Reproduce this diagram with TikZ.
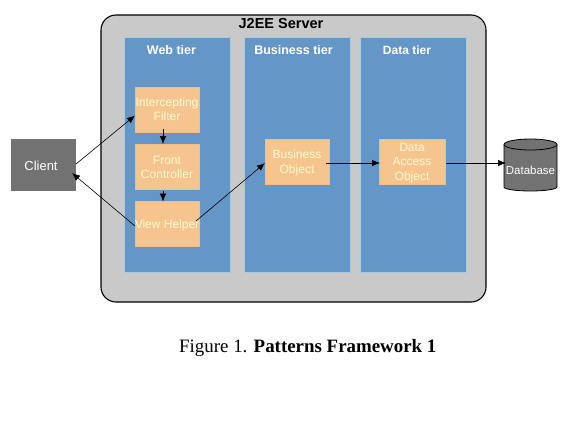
\documentclass[tikz,border=0pt]{standalone}
\usepackage{fontspec}
\setmainfont{Liberation Sans}
\newfontfamily\capfont{Liberation Serif}
\usetikzlibrary{arrows.meta}
\definecolor{servergray}{HTML}{C9C9C9}
\definecolor{tierblue}{HTML}{6496C8}
\definecolor{tierhalo}{HTML}{A8CBE4}
\definecolor{boxorange}{HTML}{F6C48E}
\definecolor{boxtext}{HTML}{FFFBD0}
\definecolor{darkgray}{HTML}{727272}
\tikzset{
  x=1pt,y=-1pt,
  server/.style={draw=black,line width=1.1pt,fill=servergray,rounded corners=15pt,minimum width=385pt,minimum height=287pt,inner sep=0pt},
  tier/.style={draw=tierhalo,line width=1pt,fill=tierblue,minimum width=106pt,minimum height=235pt,inner sep=0pt},
  pattern/.style={fill=boxorange,draw=boxorange!90!orange,minimum width=64pt,minimum height=45pt,inner sep=0pt},
  patterntext/.style={align=center,text=boxtext,inner sep=0pt,font=\fontsize{12}{14.4}\selectfont},
  grayblock/.style={fill=darkgray,text=white,font=\fontsize{13}{14}\selectfont},
  heading/.style={font=\bfseries\fontsize{12.5}{14}\selectfont,text=white},
  conn/.style={-{Latex[length=8pt,width=6.5pt]},line width=0.6pt,black},
}
\begin{document}
\begin{tikzpicture}
\useasboundingbox (0,0) rectangle (575,431);
\fill[white] (0,0) rectangle (575,431);
\node[server] (srv) at (293.5,158.5) {};
\node[font=\bfseries\fontsize{14.5}{16}\selectfont,text=black] (srvlabel) at (281,24) {J2EE Server};
\node[tier] (web) at (177.5,155) {};
\node[tier] (bus) at (297.5,155) {};
\node[tier] (dat) at (413,155) {};
\node[heading] (webl) at (171.5,50.5) {Web tier};
\node[heading] (busl) at (293.5,50.5) {Business tier};
\node[heading,font=\bfseries\fontsize{12}{14}\selectfont] (datl) at (407,50.5) {Data tier};
\node[pattern] (if) at (167,109.5) {};
\node[pattern] (fc) at (167,166.5) {};
\node[pattern] (vh) at (167,223.5) {};
\node[pattern] (bo) at (297,161.5) {};
\node[pattern,minimum width=66pt] (dao) at (412,161.5) {};
\node[patterntext] (ift) at (167,109.5) {Intercepting\\Filter};
\node[patterntext] (fct) at (167,167.5) {Front\\Controller};
\node[patterntext] (vht) at (167,225.5) {View Helper};
\node[patterntext] (bot) at (297,163) {Business\\Object};
\node[patterntext] (daot) at (412,163) {Data\\Access\\Object};
\node[grayblock,minimum width=65pt,minimum height=52pt,inner sep=0pt] (cl) at (43.5,165) {};
\node[text=white,font=\fontsize{13}{14}\selectfont,inner sep=0pt] (clt) at (41,166) {Client};
% database cylinder
\node[minimum width=53pt,minimum height=52pt,inner sep=0pt] (db) at (530.5,165) {};
\path[draw=black,line width=0.8pt,fill=darkgray]
  (504,144.5) -- (504,187) arc[x radius=26.5,y radius=-4,start angle=180,end angle=360]
  -- (557,144.5) arc[x radius=26.5,y radius=-5.5,start angle=0,end angle=180] -- cycle;
\draw[line width=0.8pt] (504,144.5) arc[x radius=26.5,y radius=-5.5,start angle=180,end angle=360];
\node[text=white,font=\fontsize{11.5}{14}\selectfont,inner sep=0pt] (dbl) at (530.5,170) {Database};
\coordinate (ifin) at (135,115.5);
\coordinate (clout) at (76,164);
\coordinate (clin) at (72,173);
\coordinate (vhout) at (135,226);
\coordinate (vhr) at (196,221);
\coordinate (boin) at (265,163);
\coordinate (boout) at (326,163);
\coordinate (daoin) at (380,163);
\coordinate (daoout) at (446,163);
\coordinate (dbin) at (506,163);
\coordinate (ifb) at (163,129);
\coordinate (fct1) at (163,144);
\coordinate (fcb) at (163,191);
\coordinate (vht1) at (163,201.5);
\draw[conn] (clout) -- (ifin);
\draw[conn] (vhout) -- (clin);
\draw[conn] (vhr) -- (boin);
\draw[conn] (boout) -- (daoin);
\draw[conn] (daoout) -- (dbin);
\draw[conn] (ifb) -- (fct1);
\draw[conn] (fcb) -- (vht1);
\node[font=\capfont\fontsize{18.9}{22}\selectfont,text=black,anchor=west,inner sep=0pt] (cap) at (179,347.5) {Figure 1. \textbf{Patterns Framework 1}};
\end{tikzpicture}
\end{document}
